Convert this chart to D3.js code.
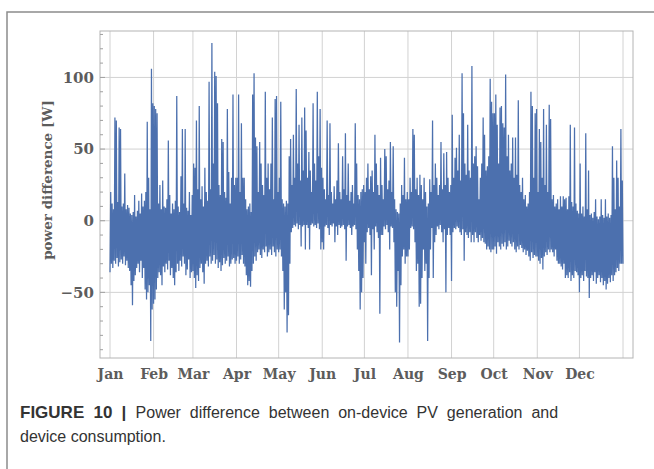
<!DOCTYPE html>
<html>
<head>
<meta charset="utf-8">
<script src="https://cdn.jsdelivr.net/npm/d3@7/dist/d3.min.js"></script>
<style>
  html, body { margin: 0; padding: 0; background: #fff; }
  svg { display: block; }
</style>
</head>
<body>
<svg id="chart" width="654" height="469"></svg>
<script>
// Month tick labels (placed at the first day of each month)
const monthLabels = ["Jan", "Feb", "Mar", "Apr", "May", "Jun", "Jul", "Aug", "Sep", "Oct", "Nov", "Dec"];

// Y tick values [W]
const yTicks = [-50, 0, 50, 100];

// Daily maximum of the power difference [W], Jan 1 .. Dec 31
const dailyMax = [
  // Jan
  20, 12, 8, 72, 70, 13, 65, 64, 10, 12, 33, 8, 11, 9, 5, 4, 6, 18, 3, 7, 14, 5, 19, 10, 14, 20, 69, 30, 8, 106, 82,
  // Feb
  80, 78, 75, 12, 25, 8, 28, 10, 9, 15, 56, 18, 5, 12, 8, 14, 87, 10, 6, 31, 64, 12, 64, 9, 7, 20, 4, 18,
  // Mar
  40, 37, 70, 22, 80, 15, 24, 10, 37, 20, 14, 97, 22, 124, 40, 104, 101, 82, 25, 18, 57, 55, 20, 16, 78, 34, 12, 30, 88, 25, 30,
  // Apr
  30, 88, 20, 68, 30, 30, 15, 8, 10, 12, 6, 88, 103, 58, 52, 20, 55, 40, 25, 18, 90, 30, 40, 22, 40, 72, 15, 85, 87, 20,
  // May
  30, 83, 15, 12, 10, 14, 12, 45, 57, 25, 60, 30, 92, 40, 67, 28, 72, 35, 79, 63, 30, 48, 35, 20, 82, 40, 28, 90, 45, 78, 37,
  // Jun
  30, 22, 15, 70, 18, 68, 20, 12, 24, 15, 28, 54, 20, 15, 45, 22, 61, 18, 40, 14, 20, 25, 12, 68, 40, 18, 15, 20, 22, 25,
  // Jul
  20, 30, 40, 22, 31, 35, 20, 60, 40, 25, 18, 44, 25, 15, 50, 45, 22, 28, 55, 20, 52, 15, 8, 6, 5, 12, 25, 18, 44, 15, 20,
  // Aug
  15, 30, 20, 64, 60, 22, 30, 18, 32, 25, 15, 30, 20, 10, 12, 29, 20, 70, 25, 40, 30, 18, 25, 55, 22, 47, 25, 48, 30, 20, 25,
  // Sep
  74, 30, 44, 51, 35, 60, 28, 103, 75, 40, 32, 67, 35, 30, 108, 40, 45, 52, 38, 15, 30, 40, 72, 60, 35, 38, 45, 99, 83, 75,
  // Oct
  75, 88, 67, 40, 79, 80, 68, 65, 102, 45, 60, 35, 40, 58, 30, 58, 32, 84, 25, 20, 30, 15, 18, 10, 12, 20, 90, 80, 30, 75, 78,
  // Nov
  20, 64, 55, 30, 78, 25, 67, 20, 81, 71, 15, 18, 10, 12, 15, 8, 17, 10, 17, 15, 16, 8, 17, 67, 13, 10, 65, 12, 7, 5,
  // Dec
  40, 5, 10, 3, 61, 8, 35, 4, 5, 2, 6, 15, 3, 1, 3, 15, 4, 2, 15, 3, 5, 2, 4, 52, 30, 8, 42, 30, 10, 64, 28
];

// Daily minimum of the power difference [W], Jan 1 .. Dec 31
const dailyMin = [
  // Jan
  -36, -30, -33, -28, -30, -26, -32, -29, -27, -30, -25, -31, -28, -33, -35, -45, -59, -42, -38, -33, -30, -36, -28, -40, -33, -48, -55, -50, -45, -84, -62,
  // Feb
  -58, -55, -48, -40, -36, -38, -45, -32, -36, -30, -34, -28, -38, -33, -40, -45, -36, -30, -35, -28, -32, -25, -30, -38, -34, -27, -40, -36,
  // Mar
  -35, -40, -47, -38, -42, -33, -30, -36, -44, -30, -28, -32, -25, -30, -28, -24, -30, -27, -33, -29, -35, -31, -26, -30, -28, -25, -32, -30, -27, -26, -30,
  // Apr
  -28, -25, -30, -27, -24, -30, -32, -38, -45, -42, -46, -35, -30, -25, -28, -22, -20, -24, -26, -20, -22, -18, -25, -22, -20, -24, -18, -22, -25, -20,
  // May
  -22, -20, -25, -35, -62, -50, -78, -66, -30, -8, -5, -3, -4, -2, -6, -3, -18, -4, -3, -20, -3, -5, -20, -3, -2, -4, -3, -5, -2, -6, -20,
  // Jun
  -15, -20, -4, -3, -5, -10, -3, -4, -2, -15, -4, -10, -3, -5, -4, -3, -6, -28, -4, -3, -5, -10, -4, -3, -6, -20, -35, -62, -50, -40,
  // Jul
  -15, -30, -8, -5, -10, -38, -6, -20, -4, -8, -12, -65, -10, -10, -4, -6, -3, -8, -20, -4, -5, -15, -50, -60, -35, -85, -45, -25, -20, -30, -25,
  // Aug
  -25, -20, -5, -4, -6, -15, -35, -30, -60, -58, -40, -20, -35, -30, -84, -40, -20, -5, -40, -15, -10, -4, -6, -3, -8, -15, -6, -50, -10, -5, -10,
  // Sep
  -42, -8, -5, -6, -4, -5, -8, -10, -6, -28, -8, -10, -12, -8, -15, -10, -15, -8, -12, -15, -10, -14, -12, -15, -16, -20, -18, -20, -22, -20,
  // Oct
  -20, -18, -23, -15, -18, -20, -16, -18, -15, -20, -18, -14, -16, -18, -15, -20, -22, -18, -20, -17, -19, -22, -20, -24, -21, -25, -28, -22, -26, -24, -25,
  // Nov
  -25, -28, -30, -26, -34, -25, -22, -24, -20, -22, -20, -22, -25, -20, -28, -30, -30, -32, -34, -30, -40, -38, -40, -36, -42, -38, -40, -35, -36, -38,
  // Dec
  -50, -40, -38, -42, -35, -39, -40, -54, -40, -38, -42, -36, -44, -40, -38, -43, -40, -45, -42, -48, -44, -40, -43, -38, -42, -38, -36, -33, -35, -30, -30
];

const svg = d3.select("#chart");

// Outer figure panel border
svg.append("rect")
  .attr("x", 7).attr("y", 12)
  .attr("width", 700).attr("height", 500)
  .attr("fill", "none")
  .attr("stroke", "#8c8c8c")
  .attr("stroke-width", 1.5);

// Plot frame geometry
const frame = { left: 100, right: 633, top: 31, bottom: 358 };

const yearStart = new Date(2015, 0, 1);
const yearEnd = new Date(2016, 0, 1);
const dayMs = 24 * 3600 * 1000;

const x = d3.scaleTime()
  .domain([yearStart, yearEnd])
  .range([110, 623]);

const y = d3.scaleLinear()
  .domain([-95.8, 132.4])
  .range([frame.bottom, frame.top]);

const monthStarts = d3.timeMonth.range(yearStart, d3.timeDay.offset(yearEnd, 1));

// Grid lines
const grid = svg.append("g").attr("stroke", "#d2d2d2").attr("stroke-width", 1);
grid.selectAll("line.v")
  .data(monthStarts)
  .join("line")
  .attr("class", "v")
  .attr("x1", d => x(d)).attr("x2", d => x(d))
  .attr("y1", frame.top).attr("y2", frame.bottom);
grid.selectAll("line.h")
  .data(yTicks)
  .join("line")
  .attr("class", "h")
  .attr("x1", frame.left).attr("x2", frame.right)
  .attr("y1", d => y(d)).attr("y2", d => y(d));

// Frame
svg.append("rect")
  .attr("x", frame.left).attr("y", frame.top)
  .attr("width", frame.right - frame.left)
  .attr("height", frame.bottom - frame.top)
  .attr("fill", "none")
  .attr("stroke", "#b4b4b4")
  .attr("stroke-width", 1);

// Minor ticks on the left frame
svg.append("g")
  .selectAll("line")
  .data(d3.range(-90, 131, 10))
  .join("line")
  .attr("x1", frame.left).attr("x2", d => frame.left + (d % 50 === 0 ? 5 : 3))
  .attr("y1", d => y(d)).attr("y2", d => y(d))
  .attr("stroke", "#a0a0a0")
  .attr("stroke-width", 1);

// Hourly-style trace: each day swings from its minimum up to its maximum
const points = [];
dailyMax.forEach((hi, i) => {
  points.push([new Date(yearStart.getTime() + i * dayMs), dailyMin[i]]);
  points.push([new Date(yearStart.getTime() + (i + 0.5) * dayMs), hi]);
});
points.push([new Date(yearStart.getTime() + 365 * dayMs), dailyMin[364]]);

const line = d3.line()
  .x(d => x(d[0]))
  .y(d => y(d[1]));

svg.append("path")
  .datum(points)
  .attr("d", line)
  .attr("fill", "none")
  .attr("stroke", "#4c70ae")
  .attr("stroke-width", 1.25)
  .attr("stroke-linejoin", "miter");

// Axes labels
const labelFont = "'DejaVu Serif', 'Liberation Serif', serif";

const yAxis = d3.axisLeft(y)
  .tickValues(yTicks)
  .tickSize(0)
  .tickPadding(6)
  .tickFormat(d => d < 0 ? "\u2212" + Math.abs(d) : String(d));

svg.append("g")
  .attr("transform", `translate(${frame.left},0)`)
  .call(yAxis)
  .call(g => g.select(".domain").remove())
  .selectAll("text")
  .attr("font-family", labelFont)
  .attr("font-weight", "bold")
  .attr("font-size", 15)
  .attr("fill", "#5c5c5c");

const xAxis = d3.axisBottom(x)
  .tickValues(monthStarts.slice(0, 12))
  .tickSize(0)
  .tickPadding(11)
  .tickFormat((d, i) => monthLabels[i]);

svg.append("g")
  .attr("transform", `translate(0,${frame.bottom})`)
  .call(xAxis)
  .call(g => g.select(".domain").remove())
  .selectAll("text")
  .attr("font-family", labelFont)
  .attr("font-weight", "bold")
  .attr("font-size", 14)
  .attr("fill", "#5c5c5c");

svg.append("text")
  .attr("transform", "translate(47,180) rotate(-90)")
  .attr("text-anchor", "middle")
  .attr("dominant-baseline", "central")
  .attr("font-family", labelFont)
  .attr("font-weight", "bold")
  .attr("font-size", 13.5)
  .attr("fill", "#5c5c5c")
  .text("power difference [W]");

// Figure caption (first line justified to the column width through word spacing)
const caption = svg.append("g")
  .attr("font-family", "'Liberation Sans', Arial, sans-serif")
  .attr("font-size", 16)
  .attr("fill", "#333");

const line1 = caption.append("text")
  .attr("x", 20).attr("y", 418)
  .attr("word-spacing", 4.5);
line1.append("tspan").attr("font-weight", "bold").attr("font-size", 17).text("FIGURE 10 | ");
line1.append("tspan").text("Power difference between on-device PV generation and");

caption.append("text").attr("x", 20).attr("y", 442).text("device consumption.");
</script>
</body>
</html>
